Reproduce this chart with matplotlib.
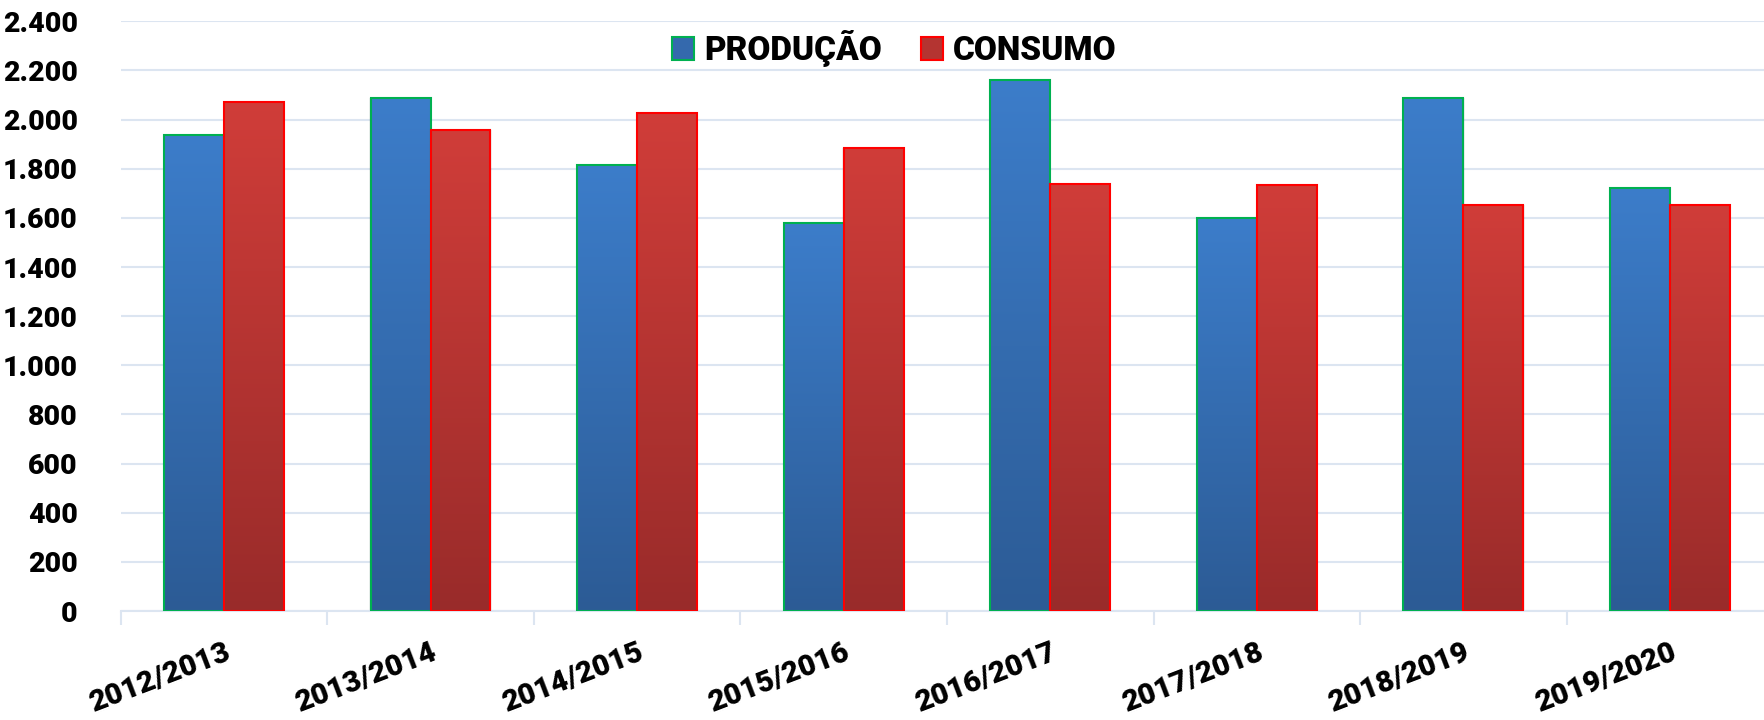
import numpy as np
import matplotlib
matplotlib.use("Agg")
import matplotlib.pyplot as plt
from matplotlib.colors import LinearSegmentedColormap
from matplotlib.patches import Patch
from matplotlib.ticker import FixedLocator

# ---- data ----
safras = ["2012/2013", "2013/2014", "2014/2015", "2015/2016",
          "2016/2017", "2017/2018", "2018/2019", "2019/2020"]
producao = [1936, 2087, 1817, 1579, 2161, 1599, 2087, 1723]
consumo = [2073, 1959, 2025, 1883, 1739, 1734, 1651, 1651]
y_ticks = [0, 200, 400, 600, 800, 1000, 1200, 1400, 1600, 1800, 2000, 2200, 2400]
y_tick_labels = ["0", "200", "400", "600", "800", "1.000", "1.200", "1.400",
                 "1.600", "1.800", "2.000", "2.200", "2.400"]
series_names = ["PRODUÇÃO", "CONSUMO"]

plt.rcParams['font.family'] = ['Roboto', 'DejaVu Sans']
WEIGHT = 'heavy'

fig = plt.figure(figsize=(17.64, 7.2), dpi=100)
ax = fig.add_axes([120.7 / 1764, 1 - 611 / 720, (8 * 206.57) / 1764, (611 - 21.3) / 720])

grid_col = "#dce5f1"
blue_top, blue_bot = "#3c7dca", "#2c5b95"
red_top, red_bot = "#d03d39", "#992b2a"
blue_edge, red_edge = "#00b050", "#ff0000"

x = np.arange(len(safras))
w = 0.29

cmap_b = LinearSegmentedColormap.from_list("b", [blue_bot, blue_top])
cmap_r = LinearSegmentedColormap.from_list("r", [red_bot, red_top])
grad = np.linspace(0, 1, 256).reshape(-1, 1)

def grad_bars(xpos, vals, cmap, edge):
    bars = ax.bar(xpos, vals, w, facecolor="none", edgecolor=edge,
                  linewidth=1.5, zorder=4)
    for b in bars:
        x0, y0 = b.get_x(), b.get_y()
        bw, bh = b.get_width(), b.get_height()
        im = ax.imshow(grad, extent=[x0, x0 + bw, y0, y0 + bh], origin="lower",
                       aspect="auto", cmap=cmap, zorder=3, interpolation="bilinear")
        im.set_clip_path(b)
        ax.bar(x0 + bw / 2, bh, bw * 1.04, bottom=y0, color="#000000", alpha=0.06,
               zorder=2.5, linewidth=0)
    return bars

grad_bars(x - w / 2, producao, cmap_b, blue_edge)
grad_bars(x + w / 2, consumo, cmap_r, red_edge)

ax.set_xlim(-0.5, len(safras) - 0.5)
ax.set_ylim(0, 2400)

# y axis
ax.set_yticks(y_ticks)
ax.set_yticklabels(y_tick_labels, fontsize=20.5, fontweight=WEIGHT)
ax.tick_params(axis="y", length=0, pad=31)
ax.yaxis.grid(True, color=grid_col, linewidth=1.5, zorder=0)
ax.set_axisbelow(True)

# x axis: boundary ticks as major, labels at centers as minor
ax.xaxis.set_major_locator(FixedLocator(np.arange(len(safras) + 1) - 0.5))
ax.xaxis.set_major_formatter(plt.NullFormatter())
ax.tick_params(axis="x", which="major", length=10, width=1.5, color=grid_col)
ax.set_xticks(x, minor=True)
ax.set_xticklabels(safras, minor=True, fontsize=21.5, fontweight=WEIGHT,
                   rotation=21, ha="right", va="top", rotation_mode="anchor")
ax.tick_params(axis="x", which="minor", length=0, pad=20)

for s in ["top", "right", "left"]:
    ax.spines[s].set_visible(False)
ax.spines["bottom"].set_color(grid_col)
ax.spines["bottom"].set_linewidth(1.5)

# legend
handles = [Patch(facecolor="#3469ad", edgecolor=blue_edge, linewidth=1.5),
           Patch(facecolor="#b43431", edgecolor=red_edge, linewidth=1.5)]
fig.legend(handles, series_names, loc="center", bbox_to_anchor=(0.507, 0.932),
           ncol=2, frameon=False, handlelength=0.68, handleheight=0.68,
           handletextpad=0.3, columnspacing=1.15, prop={"weight": WEIGHT, "size": 24})

fig.savefig("out.png", dpi=100)
